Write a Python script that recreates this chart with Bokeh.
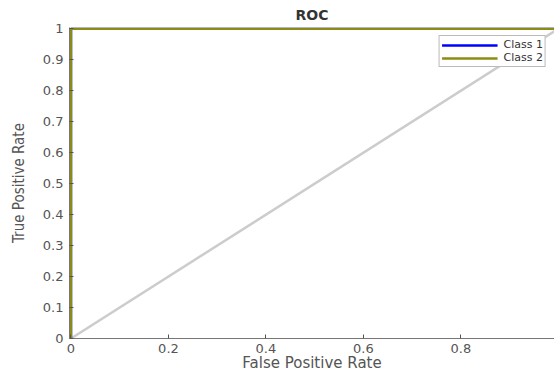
from bokeh.plotting import figure
from bokeh.models import Legend, LegendItem, Range1d, FixedTicker
from bokeh.embed import file_html
from bokeh.resources import INLINE

# Data
class1_fpr = [0.0, 0.0, 1.0]
class1_tpr = [0.0, 1.0, 1.0]
class2_fpr = [0.0, 0.0, 1.0]
class2_tpr = [0.0, 1.0, 1.0]
diag_x = [0.0, 1.0]
diag_y = [0.0, 1.0]
x_ticks = [0, 0.2, 0.4, 0.6, 0.8]
y_ticks = [0, 0.1, 0.2, 0.3, 0.4, 0.5, 0.6, 0.7, 0.8, 0.9, 1.0]

p = figure(width=554, height=374, output_backend="svg", toolbar_location=None,
           x_range=Range1d(-0.003, 0.992), y_range=Range1d(0, 1.004),
           min_border_left=69, min_border_right=0, min_border_top=27, min_border_bottom=0)

p.title.text = "ROC"
p.title.align = "center"
p.title.text_font = "DejaVu Sans"
p.title.text_font_size = "14px"
p.title.text_font_style = "bold"
p.title.text_color = "#333333"
p.title.standoff = 9

p.outline_line_color = None
p.xgrid.visible = False
p.ygrid.visible = False
p.background_fill_color = "white"

d = p.line(diag_x, diag_y, line_color="#cccccc", line_width=2.5)
r1 = p.line(class1_fpr, class1_tpr, line_color="#0000ff", line_width=2.5)
r2 = p.line(class2_fpr, class2_tpr, line_color="#8c8c14", line_width=2.5)

for ax in (p.xaxis[0], p.yaxis[0]):
    ax.axis_line_color = "#777777"
    ax.major_tick_line_color = "#555555"
    ax.major_tick_in = 4
    ax.major_tick_out = 0
    ax.minor_tick_line_color = None
    ax.major_label_text_font = "DejaVu Sans"
    ax.major_label_text_font_size = "13px"
    ax.major_label_text_color = "#555555"
    ax.axis_label_text_font_style = "normal"
    ax.axis_label_text_color = "#555555"

p.xaxis.axis_label_text_font = "DejaVu Sans"
p.xaxis.axis_label_text_font_size = "15px"
p.yaxis.axis_label_text_font = "DejaVu Sans Condensed"
p.yaxis.axis_label_text_font_size = "15px"

p.xaxis.ticker = FixedTicker(ticks=x_ticks)
p.yaxis.ticker = FixedTicker(ticks=y_ticks)
p.xaxis.major_label_overrides = {0: "0", 0.2: "0.2", 0.4: "0.4", 0.6: "0.6", 0.8: "0.8"}
p.yaxis.major_label_overrides = {0: "0", 1: "1"}
p.xaxis.axis_label = "False Positive Rate"
p.yaxis.axis_label = "True Positive Rate"
p.xaxis.major_label_standoff = 5
p.xaxis.axis_label_standoff = -2
p.yaxis.major_label_standoff = 6
p.yaxis.axis_label_standoff = 12

legend = Legend(items=[LegendItem(label="Class 1", renderers=[r1]),
                       LegendItem(label="Class 2", renderers=[r2])],
                location="top_right")
legend.margin = 8
legend.padding = 2
legend.spacing = 0
legend.glyph_width = 56
legend.glyph_height = 10
legend.label_height = 10
legend.label_standoff = 6
legend.label_text_font = "DejaVu Sans"
legend.label_text_font_size = "11px"
legend.label_text_color = "#333333"
legend.border_line_color = "#777777"
legend.border_line_width = 1
legend.background_fill_alpha = 1
p.add_layout(legend)

open("out.html", "w").write(file_html(p, INLINE))
